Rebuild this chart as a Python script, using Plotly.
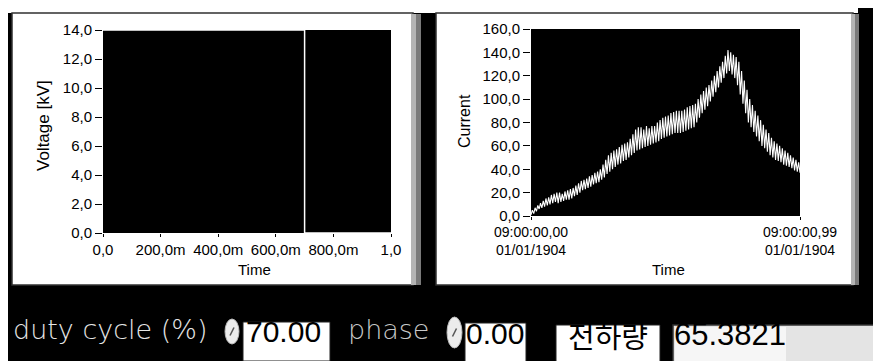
import plotly.graph_objects as go

W, H = 881, 361

# ---------------- data ----------------
volt_t = [0.0, 0.7, 0.7, 1.0]
volt_v = [14.0, 14.0, 0.0, 0.0]
volt_tickvals = [0, 0.2, 0.4, 0.6, 0.8, 1.0]
volt_ticktext = ["0,0", "200,0m", "400,0m", "600,0m", "800,0m", "1,0"]
volt_yvals = [0, 2, 4, 6, 8, 10, 12, 14]
volt_ytext = ["0,0", "2,0", "4,0", "6,0", "8,0", "10,0", "12,0", "14,0"]

cur_t = [i * 0.005 for i in range(199)]
cur_v = [1, 5, 2, 7, 4, 9, 6, 11, 7, 13,
         8, 15, 9, 16, 10, 18, 11, 19, 12, 20,
         11, 20, 12, 19, 13, 21, 14, 22, 14, 23,
         15, 24, 17, 26, 18, 28, 20, 30, 22, 31,
         23, 32, 24, 34, 25, 35, 27, 37, 28, 38,
         29, 40, 31, 44, 33, 48, 36, 52, 38, 54,
         40, 56, 42, 57, 44, 59, 45, 61, 47, 62,
         48, 63, 50, 66, 52, 70, 54, 74, 56, 76,
         57, 76, 58, 74, 59, 77, 60, 75, 61, 77,
         62, 77, 63, 80, 64, 82, 66, 84, 67, 85,
         68, 86, 69, 88, 70, 89, 71, 90, 71, 90,
         71, 90, 72, 91, 73, 93, 74, 94, 75, 95,
         76, 96, 80, 100, 84, 104, 88, 107, 91, 110,
         94, 112, 98, 116, 102, 120, 106, 124, 110, 128,
         114, 132, 118, 137, 122, 142, 124, 140, 121, 138,
         118, 136, 112, 132, 104, 124, 96, 116, 88, 108,
         80, 100, 76, 95, 72, 90, 68, 86, 64, 82,
         60, 78, 58, 74, 55, 71, 52, 67, 50, 64,
         48, 62, 47, 60, 46, 58, 44, 56, 43, 54,
         42, 52, 41, 50, 39, 48, 38, 46, 37]
cur_tickvals = [0, 0.99]
cur_ticktext = ["09:00:00,00<br>01/01/1904", "09:00:00,99<br>01/01/1904"]
cur_yvals = [0, 20, 40, 60, 80, 100, 120, 140, 160]
cur_ytext = ["0,0", "20,0", "40,0", "60,0", "80,0", "100,0", "120,0", "140,0", "160,0"]

duty_label = "duty cycle (%)"
duty_value = "70.00"
phase_label = "phase"
phase_value = "0.00"
charge_label = "전하량"
charge_value = "65.3821"

# ---------------- helpers ----------------
def px(x):
    return x / W

def py(y):
    return 1 - y / H

SANS = "Liberation Sans, Arial, sans-serif"

fig = go.Figure()
fig.add_trace(go.Scatter(x=volt_t, y=volt_v, mode="lines",
                         line=dict(color="white", width=1.5),
                         xaxis="x", yaxis="y", hoverinfo="skip"))
fig.add_trace(go.Scatter(x=cur_t, y=cur_v, mode="lines",
                         line=dict(color="white", width=1.1),
                         xaxis="x2", yaxis="y2", hoverinfo="skip"))

tickfont = dict(family=SANS, size=15, color="black")
common = dict(showgrid=False, zeroline=False, showline=False, automargin=False,
              ticks="outside", tickcolor="black", tickfont=tickfont, tickangle=0,
              fixedrange=True)

fig.update_layout(
    width=W, height=H,
    margin=dict(l=0, r=0, t=0, b=0, pad=0),
    paper_bgcolor="black",
    plot_bgcolor="black",
    showlegend=False,
    xaxis=dict(domain=[px(95), px(383)], range=[0, 1], tickvals=volt_tickvals,
               ticktext=volt_ticktext, ticklen=3, anchor="y", **common),
    yaxis=dict(domain=[py(225), py(22)], range=[0, 14], tickvals=volt_yvals,
               ticktext=volt_ytext, ticklen=7, anchor="x", **common),
    xaxis2=dict(domain=[px(523), px(792)], range=[0, 0.99], tickvals=cur_tickvals,
                ticktext=cur_ticktext, ticklen=3, anchor="y2",
                **{**common, "tickfont": dict(family=SANS, size=14, color="black")}),
    yaxis2=dict(domain=[py(208), py(21)], range=[0, 160], tickvals=cur_yvals,
                ticktext=cur_ytext, ticklen=7, anchor="x2", **common),
)

shapes = []
def rect(x0, y0, x1, y1, fill, line=None, lw=0, layer="below"):
    shapes.append(dict(type="rect", xref="paper", yref="paper",
                       x0=px(x0), x1=px(x1), y0=py(y1), y1=py(y0),
                       fillcolor=fill, line=dict(color=line or fill, width=lw),
                       layer=layer))

# top white strip
rect(0, 0, 850, 5, "white")
# left panel + shadow
rect(4, 5, 405, 277, "white", "#303030", 1.5)
rect(403, 6, 408, 277, "#b4b4b4")
rect(408, 6, 413, 277, "#7a7a7a")
# right panel + shadow
rect(428, 5, 845, 277, "white", "#303030", 1.5)
rect(843, 6, 847, 277, "#b4b4b4")
rect(847, 6, 851, 277, "#7a7a7a")
# black plotting areas
rect(95, 22, 383, 225, "black")
rect(523, 21, 792, 208, "black")
# value boxes
rect(235, 314, 322, 353, "white", "#202020", 1, layer="above")
rect(457, 315, 518, 355, "white", "#202020", 1, layer="above")
rect(548, 317, 652, 357, "white", "#202020", 1, layer="above")
rect(665, 317, 890, 360, "#e4e4e4", "#303030", 1.5, layer="above")
rect(667, 319, 778, 359, "#f6f6f6", layer="above")
# spinner knobs
for (x0, y0, x1, y1) in [(217, 311, 231, 336), (439, 309, 454, 340)]:
    shapes.append(dict(type="circle", xref="paper", yref="paper",
                       x0=px(x0), x1=px(x1), y0=py(y1), y1=py(y0),
                       fillcolor="#ececec", line=dict(color="#bbbbbb", width=1),
                       layer="above"))
    cx = (x0 + x1) / 2
    cy = (y0 + y1) / 2
    shapes.append(dict(type="line", xref="paper", yref="paper",
                       x0=px(cx - 2), x1=px(cx + 2), y0=py(cy + 4), y1=py(cy - 4),
                       line=dict(color="#555555", width=1.5), layer="above"))
fig.update_layout(shapes=shapes)

annotations = [
    # axis titles
    dict(text="Time", x=px(246), y=py(261), xanchor="center", yanchor="middle",
         font=dict(family=SANS, size=15, color="black")),
    dict(text="Time", x=px(660), y=py(261), xanchor="center", yanchor="middle",
         font=dict(family=SANS, size=15, color="black")),
    dict(text="Voltage [kV]", x=px(35), y=py(118), xanchor="center", yanchor="middle",
         textangle=-90, font=dict(family=SANS, size=17, color="black")),
    dict(text="Current", x=px(456), y=py(113), xanchor="center", yanchor="middle",
         textangle=-90, font=dict(family=SANS, size=16, color="black")),
    # bottom controls
    dict(text=duty_label, x=px(3), y=py(321), xanchor="left", yanchor="middle",
         font=dict(family="DejaVu Sans, sans-serif", size=27, color="#e6e6e6", weight=200)),
    dict(text=duty_value, x=px(236), y=py(323), xanchor="left", yanchor="middle",
         font=dict(family=SANS, size=30, color="black")),
    dict(text=phase_label, x=px(338), y=py(321), xanchor="left", yanchor="middle",
         font=dict(family="DejaVu Sans, sans-serif", size=27, color="#c8c8c8", weight=200)),
    dict(text=phase_value, x=px(456), y=py(325), xanchor="left", yanchor="middle",
         font=dict(family=SANS, size=30, color="black")),
    dict(text=charge_label, x=px(600), y=py(327), xanchor="center", yanchor="middle",
         font=dict(family="Noto Sans CJK KR, sans-serif", size=29, color="black")),
    dict(text=charge_value, x=px(664), y=py(326), xanchor="left", yanchor="middle",
         font=dict(family=SANS, size=31, color="black")),
]
for a in annotations:
    a.update(xref="paper", yref="paper", showarrow=False)
fig.update_layout(annotations=annotations)

fig.write_html("out.html")
